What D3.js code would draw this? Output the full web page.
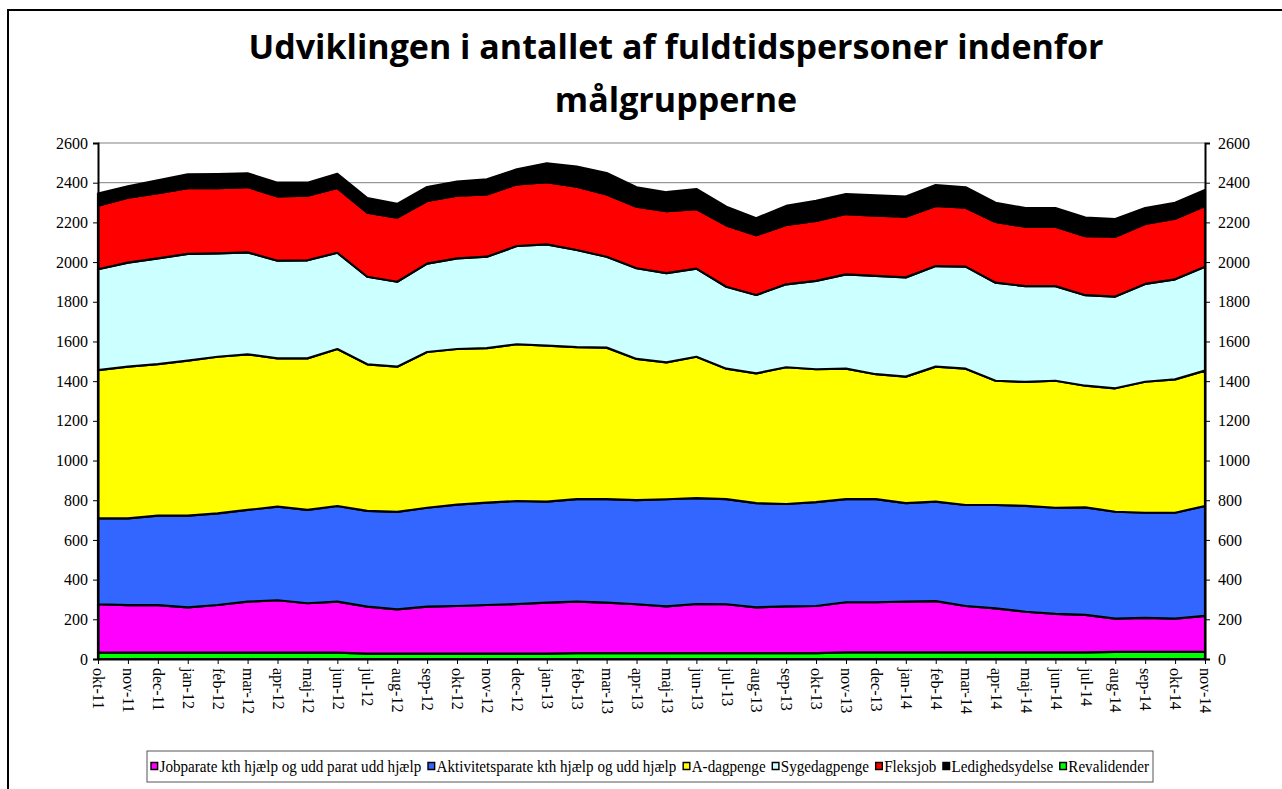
<!DOCTYPE html>
<html>
<head>
<meta charset="utf-8">
<script src="https://cdn.jsdelivr.net/npm/d3@7"></script>
<style>
  body { margin: 0; background: #fff; }
  svg { display: block; }
  .serif { font-family: "Liberation Serif", "DejaVu Serif", serif; }
</style>
</head>
<body>
<div id="chart"></div>
<script>
// Måneder på x-aksen
const months = ["okt-11","nov-11","dec-11","jan-12","feb-12","mar-12","apr-12","maj-12","jun-12","jul-12",
  "aug-12","sep-12","okt-12","nov-12","dec-12","jan-13","feb-13","mar-13","apr-13","maj-13","jun-13",
  "jul-13","aug-13","sep-13","okt-13","nov-13","dec-13","jan-14","feb-14","mar-14","apr-14","maj-14",
  "jun-14","jul-14","aug-14","sep-14","okt-14","nov-14"];

// Serier
const revalidender = [32,32,32,32,32,32,32,32,32,27,27,27,27,27,27,27,30,30,30,30,30,30,30,30,30,
  33,33,33,33,33,33,33,33,33,36,36,36,36];
const jobparate = [244,239,239,228,240,257,264,249,257,237,223,237,240,245,250,257,259,254,246,235,247,
  246,230,235,237,253,253,256,259,234,222,205,194,189,167,171,167,181];
const aktivitetsparate = [433,438,451,462,462,462,472,470,482,482,491,498,511,516,519,509,517,522,525,540,534,
  530,525,516,523,520,520,496,501,509,521,534,535,542,539,530,534,554];
const aDagpenge = [747,764,764,781,789,784,747,764,791,739,732,785,784,778,790,786,765,763,711,690,712,
  657,654,689,670,657,629,638,680,687,626,624,640,613,622,660,672,682];
const sygedagpenge = [508,524,533,538,521,514,492,494,485,441,428,445,457,461,495,510,490,458,457,449,444,
  413,395,418,445,475,495,500,507,514,494,483,477,456,462,493,504,524];
const fleksjob = [320,327,328,331,328,329,324,326,326,323,323,316,316,314,311,314,319,314,310,312,300,
  309,301,299,302,304,304,306,303,297,306,299,299,298,302,302,306,306];
const ledighedsydelse = [61,58,65,70,71,69,69,65,72,73,69,70,70,76,75,94,101,108,98,96,101,
  94,86,96,102,101,102,101,105,103,97,94,94,93,89,80,80,80];

const yTicks = [0,200,400,600,800,1000,1200,1400,1600,1800,2000,2200,2400,2600];
const titleLines = ["Udviklingen i antallet af fuldtidspersoner indenfor", "målgrupperne"];

// rækkefølge nedefra og op
const series = [
  { key: "Revalidender", values: revalidender, color: "#00ff00" },
  { key: "Jobparate kth hjælp og udd parat udd hjælp", values: jobparate, color: "#ff00ff" },
  { key: "Aktivitetsparate kth hjælp og udd hjælp", values: aktivitetsparate, color: "#3366ff" },
  { key: "A-dagpenge", values: aDagpenge, color: "#ffff00" },
  { key: "Sygedagpenge", values: sygedagpenge, color: "#ccffff" },
  { key: "Fleksjob", values: fleksjob, color: "#ff0000" },
  { key: "Ledighedsydelse", values: ledighedsydelse, color: "#000000" }
];
const legendOrder = [1,2,3,4,5,6,0];

const W = 1282, H = 789;
const margin = { top: 143, right: 77, bottom: 130, left: 98 };

const svg = d3.select("#chart").append("svg")
  .attr("width", W).attr("height", H);

// ramme om hele diagrammet
svg.append("rect")
  .attr("x", 8).attr("y", 10).attr("width", W + 20).attr("height", H + 20)
  .attr("fill", "white").attr("stroke", "black").attr("stroke-width", 2);

// Titel - presset lidt sammen vandret så den ligner Calibri
const titleG = svg.append("g");
const title = titleG.append("text")
  .attr("text-anchor", "middle")
  .style("font-family", "'Open Sans', 'Noto Sans', sans-serif")
  .style("font-weight", "bold")
  .style("font-size", "34px");
title.selectAll("tspan").data(titleLines).enter().append("tspan")
  .attr("x", 0)
  .attr("y", (d, i) => 59 + i * 53)
  .text(d => d);
const firstLen = title.select("tspan").node().getComputedTextLength();
titleG.attr("transform", `translate(676,0) scale(${855 / firstLen},1)`);

const x = d3.scalePoint().domain(months).range([margin.left, W - margin.right]);
const y = d3.scaleLinear().domain([0, 2600]).range([H - margin.bottom, margin.top]);

// gitterlinjer
svg.append("g").selectAll("line").data(yTicks).enter().append("line")
  .attr("x1", margin.left).attr("x2", W - margin.right)
  .attr("y1", d => y(d)).attr("y2", d => y(d))
  .attr("stroke", "#808080").attr("stroke-width", 1);

// Stak data
const table = months.map((m, i) => {
  const row = { month: m };
  series.forEach(s => row[s.key] = s.values[i]);
  return row;
});
const stacked = d3.stack().keys(series.map(s => s.key))(table);

const area = d3.area()
  .x(d => x(d.data.month))
  .y0(d => y(d[0]))
  .y1(d => y(d[1]));

svg.append("g").selectAll("path").data(stacked).enter().append("path")
  .attr("d", area)
  .attr("fill", (d, i) => series[i].color)
  .attr("stroke", "black")
  .attr("stroke-width", 2.2)
  .attr("stroke-linejoin", "round");

// Akser
const fmt = d3.format("d");
const leftAxis = svg.append("g")
  .attr("transform", `translate(${margin.left},0)`)
  .call(d3.axisLeft(y).tickValues(yTicks).tickFormat(fmt).tickSize(5).tickPadding(5));
const rightAxis = svg.append("g")
  .attr("transform", `translate(${W - margin.right},0)`)
  .call(d3.axisRight(y).tickValues(yTicks).tickFormat(fmt).tickSize(5).tickPadding(8));
const xAxis = svg.append("g")
  .attr("transform", `translate(0,${H - margin.bottom})`)
  .call(d3.axisBottom(x).tickSize(5).tickSizeOuter(0));

[leftAxis, rightAxis, xAxis].forEach(a => {
  a.attr("font-family", null).attr("font-size", null).attr("class", "serif");
  a.select(".domain").attr("stroke", "black").attr("stroke-width", 2);
  a.selectAll(".tick line").attr("stroke", "black");
  a.selectAll("text").attr("font-size", 16).attr("fill", "black");
});

xAxis.selectAll(".tick text")
  .attr("transform", "rotate(90)")
  .attr("x", 9).attr("y", 0).attr("dy", "0.33em")
  .attr("text-anchor", "start");

// Forklaring
const box = { x: 147, y: 751, w: 1006, h: 31 };
svg.append("rect")
  .attr("x", box.x).attr("y", box.y).attr("width", box.w).attr("height", box.h)
  .attr("fill", "white").attr("stroke", "#555").attr("stroke-width", 1);

const legend = svg.append("g").attr("class", "serif");
const items = legend.selectAll("g").data(legendOrder.map(i => series[i])).enter().append("g");
items.append("rect")
  .attr("y", -4)
  .attr("width", 7).attr("height", 7)
  .attr("fill", d => d.color).attr("stroke", "black").attr("stroke-width", 1.5);
items.append("text")
  .attr("x", 9).attr("y", 0).attr("dy", "0.35em")
  .attr("font-size", 16)
  .text(d => d.key);

let cx = 0;
const pos = [];
items.each(function () {
  const t = d3.select(this).select("text").node().getComputedTextLength();
  pos.push(cx);
  cx += 9 + t + 7;
});
const total = cx - 7;
const sx = 998 / total;
items.attr("transform", (d, i) => `translate(${pos[i]},0)`);
legend.attr("transform", `translate(${box.x + (box.w - total * sx) / 2},${box.y + box.h / 2}) scale(${sx},1)`);
</script>
</body>
</html>
